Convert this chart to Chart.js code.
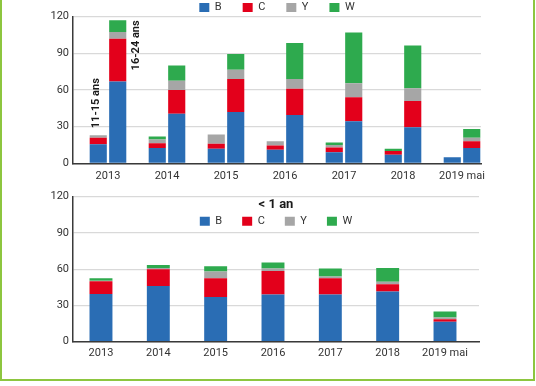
<!DOCTYPE html>
<html>
<head>
<meta charset="utf-8">
<script src="https://cdn.jsdelivr.net/npm/chart.js@4.4.1/dist/chart.umd.min.js"></script>
<style>
  body { margin: 0; background: #fff; width: 536px; height: 386px; overflow: hidden; position: relative; }
  #frame { position: absolute; left: 0; top: -5px; width: 535px; height: 386px; box-sizing: border-box; border: 2px solid #8dc63f; }
  #top { position: absolute; left: 0; top: -19px; }
  #bot { position: absolute; left: 0; top: 186px; }
</style>
</head>
<body>
<div id="frame"></div>
<canvas id="top" width="536" height="205"></canvas>
<canvas id="bot" width="536" height="193"></canvas>
<script>
var years = ["2013", "2014", "2015", "2016", "2017", "2018", "2019 mai"];

// 11-15 ans
var b1115 = [15.5, 12.5, 12, 11, 9, 7, 5];
var c1115 = [5.5, 4, 4, 3.5, 4, 3, 0];
var y1115 = [2, 3, 7.5, 3.5, 2, 0, 0];
var w1115 = [0, 2.5, 0, 0, 2, 2, 0];

// 16-24 ans
var b1624 = [67, 40.5, 42, 39.5, 34.5, 29.5, 12.5];
var c1624 = [35, 19.5, 27, 21.5, 19.5, 21.5, 5.5];
var y1624 = [5.5, 7.5, 7.5, 8, 11.5, 10.5, 3];
var w1624 = [9.5, 12.5, 13, 29.5, 41.5, 35, 7];

// < 1 an
var bU1 = [39.5, 46, 37, 39, 39, 41.5, 16.5];
var cU1 = [10.5, 14, 15.5, 19.5, 13.5, 6, 2];
var yU1 = [0.5, 1, 5.5, 2, 1.5, 2, 1.5];
var wU1 = [2, 2.5, 4.5, 5, 6.5, 11.5, 5];

var seriesNames = ["B", "C", "Y", "W"];
var colors = ["#2a6db4", "#e3001b", "#a6a6a6", "#2eaa4e"];

Chart.defaults.font.family = "Roboto";
Chart.defaults.font.size = 11;
Chart.defaults.color = "#333";
Chart.defaults.animation = false;

function pts(arr) {
  return arr.map(function (v, i) { return { x: i, y: v }; });
}
function sumAt(arrs, i) {
  return arrs.reduce(function (s, a) { return s + a[i]; }, 0);
}

function xScale(min, max, h, pad) {
  return {
    type: "linear",
    stacked: true,
    offset: false,
    min: min,
    max: max,
    afterBuildTicks: function (s) { s.ticks = years.map(function (_, i) { return { value: i }; }); },
    afterFit: function (s) { s.height = h; },
    grid: { display: false, drawTicks: false, offset: false },
    border: { display: true, color: "#3a3a3a", width: 1.5 },
    ticks: { padding: pad, maxRotation: 0, autoSkip: false, callback: function (v) { return years[v]; } },
  };
}
function yScale(w) {
  return {
    stacked: true,
    min: 0,
    max: 120,
    afterFit: function (s) { s.width = w; },
    grid: { color: "#d9d9d9", lineWidth: 1.2, drawTicks: false },
    border: { display: true, color: "#3a3a3a", width: 1.5 },
    ticks: { stepSize: 30, padding: 4 },
  };
}

var ageLabels = {
  id: "ageLabels",
  afterDatasetsDraw: function (chart) {
    var ctx = chart.ctx;
    var ys = chart.scales.y;
    var a = chart.getDatasetMeta(0).data[0];
    var b = chart.getDatasetMeta(4).data[0];
    var topA = ys.getPixelForValue(sumAt([b1115, c1115, y1115, w1115], 0));
    var topB = ys.getPixelForValue(sumAt([b1624, c1624, y1624, w1624], 0));
    ctx.save();
    ctx.font = "bold 11px Roboto";
    ctx.fillStyle = "#1a1a1a";
    ctx.textBaseline = "middle";
    ctx.translate(a.x - 2, topA - 7);
    ctx.rotate(-Math.PI / 2);
    ctx.textAlign = "left";
    ctx.fillText("11-15 ans", 0, 0);
    ctx.restore();
    ctx.save();
    ctx.font = "bold 11px Roboto";
    ctx.fillStyle = "#1a1a1a";
    ctx.textBaseline = "middle";
    ctx.translate(b.x + b.width / 2 + 9.5, topB);
    ctx.rotate(-Math.PI / 2);
    ctx.textAlign = "right";
    ctx.fillText("16-24 ans", 0, 0);
    ctx.restore();
  },
};

// the "< 1 an" legend sits inside the plot: let its box reach down so it is not clipped
var legendInside = {
  id: "legendInside",
  afterLayout: function (chart) {
    chart.legend.bottom = chart.legend.top + 60;
    chart.legend.height = 60;
  },
};

var topSets = [b1115, c1115, y1115, w1115].map(function (arr, i) {
  return { label: seriesNames[i], data: pts(arr), backgroundColor: colors[i], stack: "1115" };
}).concat([b1624, c1624, y1624, w1624].map(function (arr, i) {
  return { label: seriesNames[i], data: pts(arr), backgroundColor: colors[i], stack: "1624" };
}));

new Chart(document.getElementById("top").getContext("2d"), {
  type: "bar",
  data: { datasets: topSets },
  options: {
    responsive: false,
    categoryPercentage: 0.66,
    barPercentage: 0.88,
    layout: { padding: { left: 0, right: 55, top: 0, bottom: 0 } },
    plugins: {
      tooltip: { enabled: false },
      legend: {
        position: "top",
        fullSize: false,
        maxHeight: 35.7,
        labels: {
          boxWidth: 10,
          boxHeight: 9,
          padding: 21,
          color: "#333",
          filter: function (item) { return item.datasetIndex < 4; },
        },
      },
    },
    scales: {
      x: xScale(-0.593, 6.322, 22.7, 6.5),
      y: yScale(73),
    },
  },
  plugins: [ageLabels],
});

new Chart(document.getElementById("bot").getContext("2d"), {
  type: "bar",
  data: {
    datasets: [bU1, cU1, yU1, wU1].map(function (arr, i) {
      return { label: seriesNames[i], data: pts(arr), backgroundColor: colors[i], stack: "u1" };
    }),
  },
  options: {
    responsive: false,
    categoryPercentage: 0.4,
    barPercentage: 1,
    layout: { padding: { left: 0, right: 57, top: 0, bottom: 0 } },
    plugins: {
      tooltip: { enabled: false },
      legend: {
        position: "top",
        fullSize: false,
        maxHeight: 9.3,
        title: {
          display: true,
          text: "< 1 an",
          color: "#1a1a1a",
          font: { size: 13, weight: "bold" },
          padding: { top: 10.5, bottom: -17.6 },
        },
        labels: { boxWidth: 10, boxHeight: 9, padding: 20, color: "#333" },
      },
    },
    scales: {
      x: xScale(-0.488, 6.593, 37.3, 4.5),
      y: yScale(73),
    },
  },
  plugins: [legendInside],
});
</script>
</body>
</html>
